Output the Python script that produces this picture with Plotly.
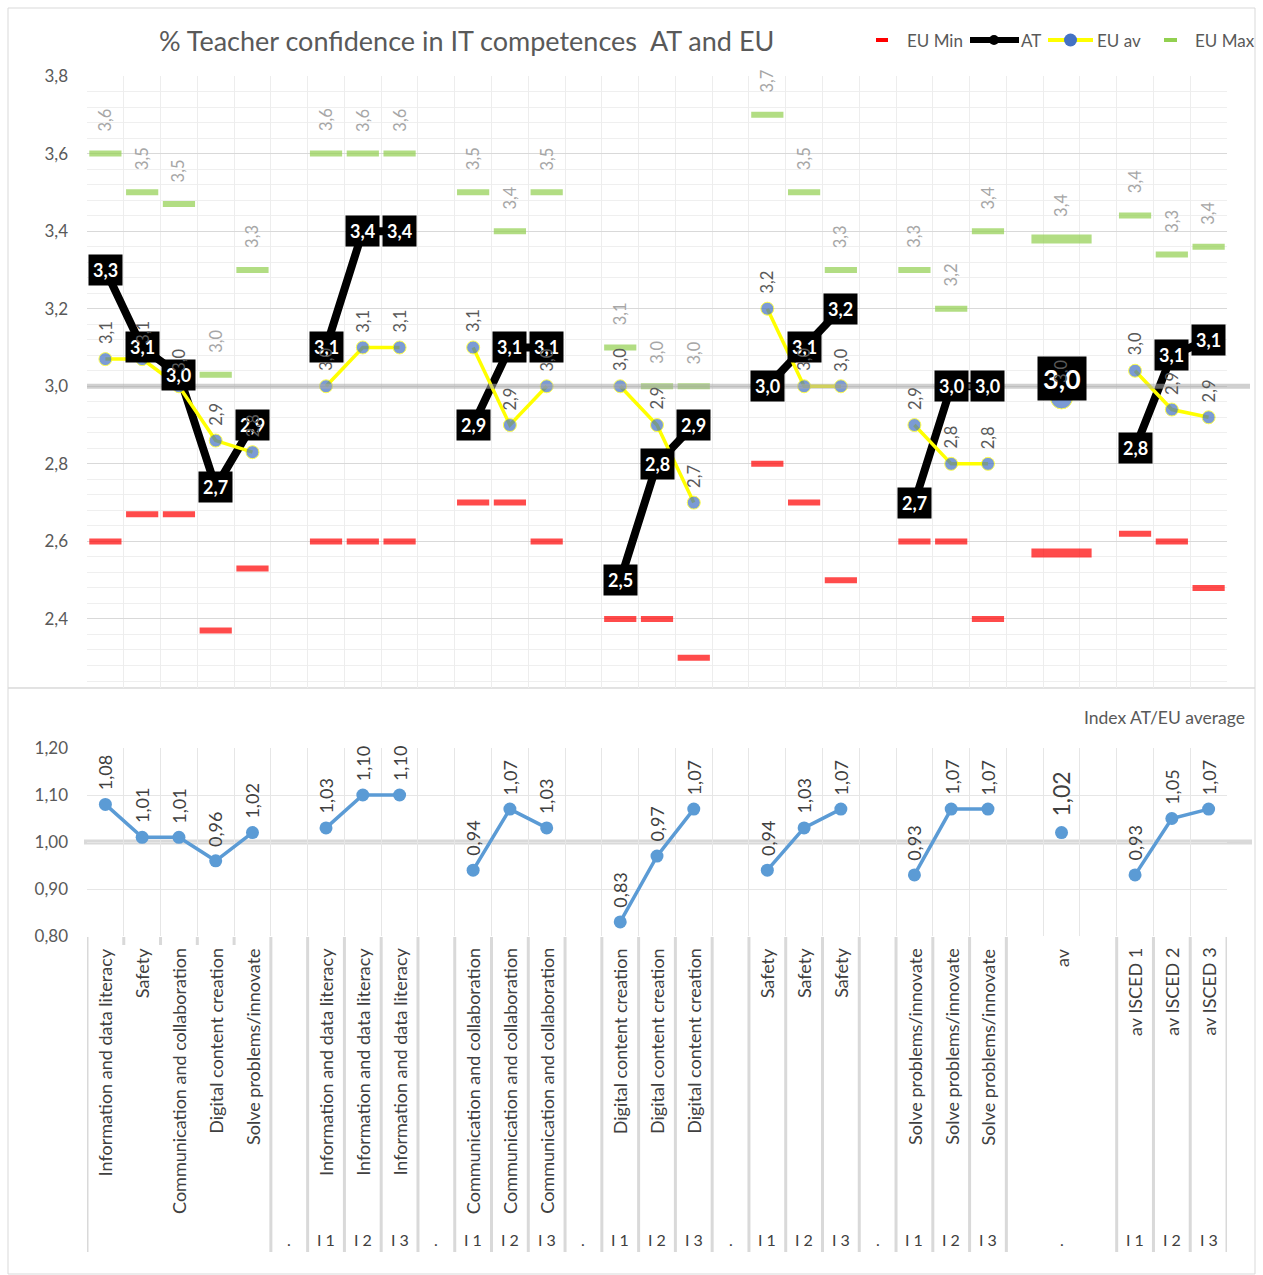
import plotly.graph_objects as go

# ---------------- data ----------------
N = None
upper_labels = [
    "Information and data literacy", "Safety", "Communication and collaboration",
    "Digital content creation", "Solve problems/innovate", "",
    "Information and data literacy", "Information and data literacy", "Information and data literacy", "",
    "Communication and collaboration", "Communication and collaboration", "Communication and collaboration", "",
    "Digital content creation", "Digital content creation", "Digital content creation", "",
    "Safety", "Safety", "Safety", "",
    "Solve problems/innovate", "Solve problems/innovate", "Solve problems/innovate", "",
    "av", "",
    "av ISCED 1", "av ISCED 2", "av ISCED 3",
]
lower_labels = [
    "", "", "", "", "", ".",
    "I 1", "I 2", "I 3", ".",
    "I 1", "I 2", "I 3", ".",
    "I 1", "I 2", "I 3", ".",
    "I 1", "I 2", "I 3", ".",
    "I 1", "I 2", "I 3", "",
    ".", "",
    "I 1", "I 2", "I 3",
]
eu_min = [2.60, 2.67, 2.67, 2.37, 2.53, N, 2.60, 2.60, 2.60, N, 2.70, 2.70, 2.60, N,
          2.40, 2.40, 2.30, N, 2.80, 2.70, 2.50, N, 2.60, 2.60, 2.40, N, 2.57, N, 2.62, 2.60, 2.48]
at_vals = [3.30, 3.10, 3.03, 2.74, 2.90, N, 3.10, 3.40, 3.40, N, 2.90, 3.10, 3.10, N,
           2.50, 2.80, 2.90, N, 3.00, 3.10, 3.20, N, 2.70, 3.00, 3.00, N, 3.02, N, 2.84, 3.08, 3.12]
eu_av = [3.07, 3.07, 3.00, 2.86, 2.83, N, 3.00, 3.10, 3.10, N, 3.10, 2.90, 3.00, N,
         3.00, 2.90, 2.70, N, 3.20, 3.00, 3.00, N, 2.90, 2.80, 2.80, N, 2.97, N, 3.04, 2.94, 2.92]
eu_max = [3.60, 3.50, 3.47, 3.03, 3.30, N, 3.60, 3.60, 3.60, N, 3.50, 3.40, 3.50, N,
          3.10, 3.00, 3.00, N, 3.70, 3.50, 3.30, N, 3.30, 3.20, 3.40, N, 3.38, N, 3.44, 3.34, 3.36]
index_at_eu = [1.08, 1.01, 1.01, 0.96, 1.02, N, 1.03, 1.10, 1.10, N, 0.94, 1.07, 1.03, N,
               0.83, 0.97, 1.07, N, 0.94, 1.03, 1.07, N, 0.93, 1.07, 1.07, N, 1.02, N, 0.93, 1.05, 1.07]
AV_SLOT = 27  # position of the overall average

# ---------------- geometry ----------------
W, H = 1263, 1275
PL, PR, PT, PB = 87, 1227, 76, 936
TOP_BOTTOM_PX, LOW_TOP_PX = 688, 748
FONT = "Lato"
GREY = "#595959"


def X(px):
    return (px - PL) / (PR - PL)


def Y(py):
    return (PB - py) / (PB - PT)


def fmt(v, d):
    return f"{v:.{d}f}".replace(".", ",")


xs = list(range(1, len(upper_labels) + 1))
is_av = [x == AV_SLOT for x in xs]

fig = go.Figure()

# EU Min dashes
fig.add_trace(go.Scatter(
    x=xs, y=eu_min, mode="markers", name="EU Min", showlegend=False,
    marker=dict(symbol="line-ew", size=[43 if a else 23 for a in is_av], color="#FF0000",
                line=dict(color="#FF0000", width=[9 if a else 6 for a in is_av])),
))
# EU Max dashes
fig.add_trace(go.Scatter(
    x=xs, y=eu_max, mode="markers", name="EU Max", showlegend=False,
    marker=dict(symbol="line-ew", size=[43 if a else 23 for a in is_av], color="#92D050",
                line=dict(color="#92D050", width=[9 if a else 6 for a in is_av])),
))
# AT line
fig.add_trace(go.Scatter(
    x=xs, y=at_vals, mode="lines", name="AT", showlegend=False,
    line=dict(color="black", width=8), connectgaps=False,
))
# EU average
fig.add_trace(go.Scatter(
    x=xs, y=eu_av, mode="lines+markers", name="EU av", showlegend=False,
    line=dict(color="#FFFF00", width=3.5), connectgaps=False,
    marker=dict(color="#4472C4", size=[22 if a else 13 for a in is_av]),
))
# Index AT / EU average (lower panel)
fig.add_trace(go.Scatter(
    x=xs, y=index_at_eu, mode="lines+markers", name="Index", showlegend=False,
    xaxis="x2", yaxis="y2",
    line=dict(color="#5B9BD5", width=3.5), connectgaps=False,
    marker=dict(color="#5B9BD5", size=13),
))

ann = []
# AT value boxes
for x, v, a in zip(xs, at_vals, is_av):
    if v is None:
        continue
    ann.append(dict(x=x, y=v, xref="x", yref="y", text=f"<b>{fmt(v, 1)}</b>", showarrow=False,
                    bgcolor="black", borderpad=5 if a else 4,
                    font=dict(family=FONT, size=27 if a else 18, color="white")))
# EU av labels
for x, v, a in zip(xs, eu_av, is_av):
    if v is None:
        continue
    ann.append(dict(x=x, y=v, xref="x", yref="y", text=fmt(v, 1), showarrow=False,
                    textangle=-90, yanchor="bottom", yshift=13,
                    font=dict(family=FONT, size=16.5, color=GREY)))
# EU Max labels
for x, v in zip(xs, eu_max):
    if v is None:
        continue
    ann.append(dict(x=x, y=v, xref="x", yref="y", text=fmt(v, 1), showarrow=False,
                    textangle=-90, yanchor="bottom", yshift=20,
                    font=dict(family=FONT, size=16.5, color="#A6A6A6")))
# Index labels
for x, v, a in zip(xs, index_at_eu, is_av):
    if v is None:
        continue
    ann.append(dict(x=x, y=v, xref="x2", yref="y2", text=fmt(v, 2), showarrow=False,
                    textangle=-90, yanchor="bottom", yshift=14 if a else 12,
                    font=dict(family=FONT, size=23 if a else 18, color="#404040")))
# category labels, two tiers
for x, t in zip(xs, upper_labels):
    if t:
        ann.append(dict(x=x, y=Y(946), xref="x2", yref="paper", text=t, showarrow=False,
                        textangle=-90, yanchor="top", xanchor="center",
                        font=dict(family=FONT, size=18, color="#404040")))
for x, t in zip(xs, lower_labels):
    if t:
        ann.append(dict(x=x, y=Y(1239), xref="x2", yref="paper", text=t, showarrow=False,
                        yanchor="middle", xanchor="center",
                        font=dict(family=FONT, size=16, color="#404040")))

# title and panel caption
ann.append(dict(x=X(466), y=Y(40), xref="paper", yref="paper", showarrow=False,
                xanchor="center", yanchor="middle",
                text="% Teacher confidence in IT competences \u00a0AT and EU",
                font=dict(family=FONT, size=27, color=GREY)))
ann.append(dict(x=X(1247), y=Y(717), xref="paper", yref="paper", showarrow=False,
                xanchor="right", yanchor="middle", text="Index AT/EU average",
                font=dict(family=FONT, size=17.5, color=GREY)))
# legend text
for px, t in [(905, "EU Min"), (1019, "AT"), (1095, "EU av"), (1193, "EU Max")]:
    ann.append(dict(x=X(px), y=Y(40), xref="paper", yref="paper", showarrow=False,
                    xanchor="left", yanchor="middle", text=t,
                    font=dict(family=FONT, size=17, color=GREY)))

shapes = []
# panel frames
shapes.append(dict(type="rect", xref="paper", yref="paper", x0=X(8), x1=X(1255), y0=Y(8), y1=Y(688),
                   line=dict(color="#D9D9D9", width=1), layer="below"))
shapes.append(dict(type="rect", xref="paper", yref="paper", x0=X(8), x1=X(1255), y0=Y(688), y1=Y(1274),
                   line=dict(color="#D9D9D9", width=1), layer="below"))
# reference lines at 3,0 and 1,00
shapes.append(dict(type="line", xref="paper", yref="y", x0=X(87), x1=X(1250), y0=3.0, y1=3.0,
                   line=dict(color="rgba(170,170,170,0.55)", width=5), layer="above"))
shapes.append(dict(type="line", xref="paper", yref="y2", x0=X(84), x1=X(1252), y0=1.0, y1=1.0,
                   line=dict(color="#D9D9D9", width=5), layer="below"))
# category dividers
for i in range(len(xs) + 1):
    b = i + 0.5
    if b in (26.5, 27.5):
        continue
    if b in (1.5, 2.5, 3.5, 4.5):
        y0, y1 = Y(937), Y(945)
    else:
        y0, y1 = Y(937), Y(1252)
    shapes.append(dict(type="line", xref="x2", yref="paper", x0=b, x1=b, y0=y0, y1=y1,
                       line=dict(color="#D9D9D9", width=3)))
# legend symbols
ly = Y(40)
shapes += [
    dict(type="line", xref="paper", yref="paper", x0=X(876), x1=X(888), y0=ly, y1=ly,
         line=dict(color="#FF0000", width=4)),
    dict(type="line", xref="paper", yref="paper", x0=X(970), x1=X(1019), y0=ly, y1=ly,
         line=dict(color="black", width=6)),
    dict(type="circle", xref="paper", yref="paper", x0=X(989), x1=X(999), y0=Y(35), y1=Y(45),
         fillcolor="black", line=dict(color="black", width=0)),
    dict(type="line", xref="paper", yref="paper", x0=X(1048), x1=X(1093), y0=ly, y1=ly,
         line=dict(color="#FFFF00", width=4)),
    dict(type="circle", xref="paper", yref="paper", x0=X(1064), x1=X(1077), y0=Y(33.5), y1=Y(46.5),
         fillcolor="#4472C4", line=dict(color="#4472C4", width=0)),
    dict(type="line", xref="paper", yref="paper", x0=X(1164), x1=X(1177), y0=ly, y1=ly,
         line=dict(color="#92D050", width=4)),
]

bounds = [i + 0.5 for i in range(len(xs) + 1)]
xax = dict(range=[0.5, len(xs) + 0.5], tickmode="array", tickvals=bounds, showticklabels=False,
           ticks="", showgrid=True, gridcolor="#EDEDED", gridwidth=1, zeroline=False, showline=False)

fig.update_layout(
    width=W, height=H, autosize=False,
    margin=dict(l=PL, r=W - PR, t=PT, b=H - PB, pad=0),
    paper_bgcolor="white", plot_bgcolor="rgba(0,0,0,0)",
    separators=",.",
    showlegend=False,
    xaxis=dict(xax, anchor="y"),
    xaxis2=dict(xax, anchor="y2", gridcolor="#E6E6E6"),
    yaxis=dict(domain=[Y(TOP_BOTTOM_PX), 1], range=[2.222, 3.8], tick0=2.4, dtick=0.2,
               tickformat=".1f", showgrid=True, gridcolor="#D9D9D9", gridwidth=1,
               minor=dict(tick0=2.4, dtick=0.04, showgrid=True, gridcolor="#EFEFEF", gridwidth=1),
               zeroline=False, showline=False, ticks="", ticklabelstandoff=18,
               tickfont=dict(family=FONT, size=17, color=GREY)),
    yaxis2=dict(domain=[0, Y(LOW_TOP_PX)], range=[0.8, 1.2], tick0=0.8, dtick=0.1,
                tickformat=".2f", showgrid=True, gridcolor="#E6E6E6", gridwidth=1,
                zeroline=False, showline=False, ticks="", ticklabelstandoff=18,
                tickfont=dict(family=FONT, size=17, color=GREY)),
    annotations=ann,
    shapes=shapes,
)

fig.write_html("out.html")
